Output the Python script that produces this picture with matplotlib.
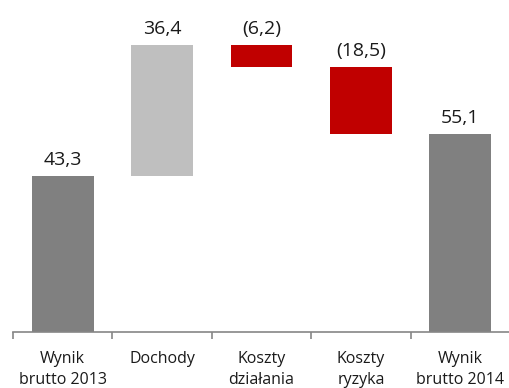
import matplotlib
matplotlib.use("Agg")
import matplotlib.pyplot as plt
import numpy as np

categories = ["Wynik\nbrutto 2013", "Dochody", "Koszty\ndziałania", "Koszty\nryzyka", "Wynik\nbrutto 2014"]
values = [43.3, 36.4, -6.2, -18.5, 55.1]
kinds = ["total", "delta", "delta", "delta", "total"]
colors = ["#808080", "#BFBFBF", "#C00000", "#C00000", "#808080"]

plt.rcParams['font.family'] = ['Open Sans', 'DejaVu Sans']

fig = plt.figure(figsize=(5.10, 3.88), dpi=100)
ax = fig.add_axes([13/510, (388-332)/388, 1 - 13/510, 324/388])

bottoms, heights = [], []
running = 0.0
for v, k in zip(values, kinds):
    if k == "total":
        bottoms.append(0.0); heights.append(v); running = v
    else:
        if v >= 0:
            bottoms.append(running); heights.append(v)
        else:
            bottoms.append(running + v); heights.append(-v)
        running += v

x = np.arange(len(categories))
ax.bar(x, heights, bottom=bottoms, width=0.62, color=colors, zorder=2)

def fmt(v):
    s = f"{abs(v):.1f}".replace(".", ",")
    return f"({s})" if v < 0 else s

for xi, b, h, v in zip(x, bottoms, heights, values):
    ax.annotate(fmt(v), (xi, b + h), xytext=(0, 5), textcoords="offset points",
                ha="center", va="bottom", fontsize=14, color="#1a1a1a")

ax.set_xlim(-0.5, 4.47)
ax.set_ylim(0, 90)
for s in ["top", "right", "left"]:
    ax.spines[s].set_visible(False)
ax.spines["bottom"].set_color("#868686")
ax.spines["bottom"].set_linewidth(1.2)
ax.set_yticks([])
ax.set_xticks(x)
ax.set_xticklabels(categories, fontsize=11.5, color="#1a1a1a", linespacing=1.35)
ax.tick_params(axis="x", which="major", length=0, pad=14)
ax.set_xticks(np.arange(-0.5, 4.6, 1.0), minor=True)
ax.tick_params(axis="x", which="minor", length=5, width=1.2, color="#868686")

fig.savefig("out.png", dpi=100)
